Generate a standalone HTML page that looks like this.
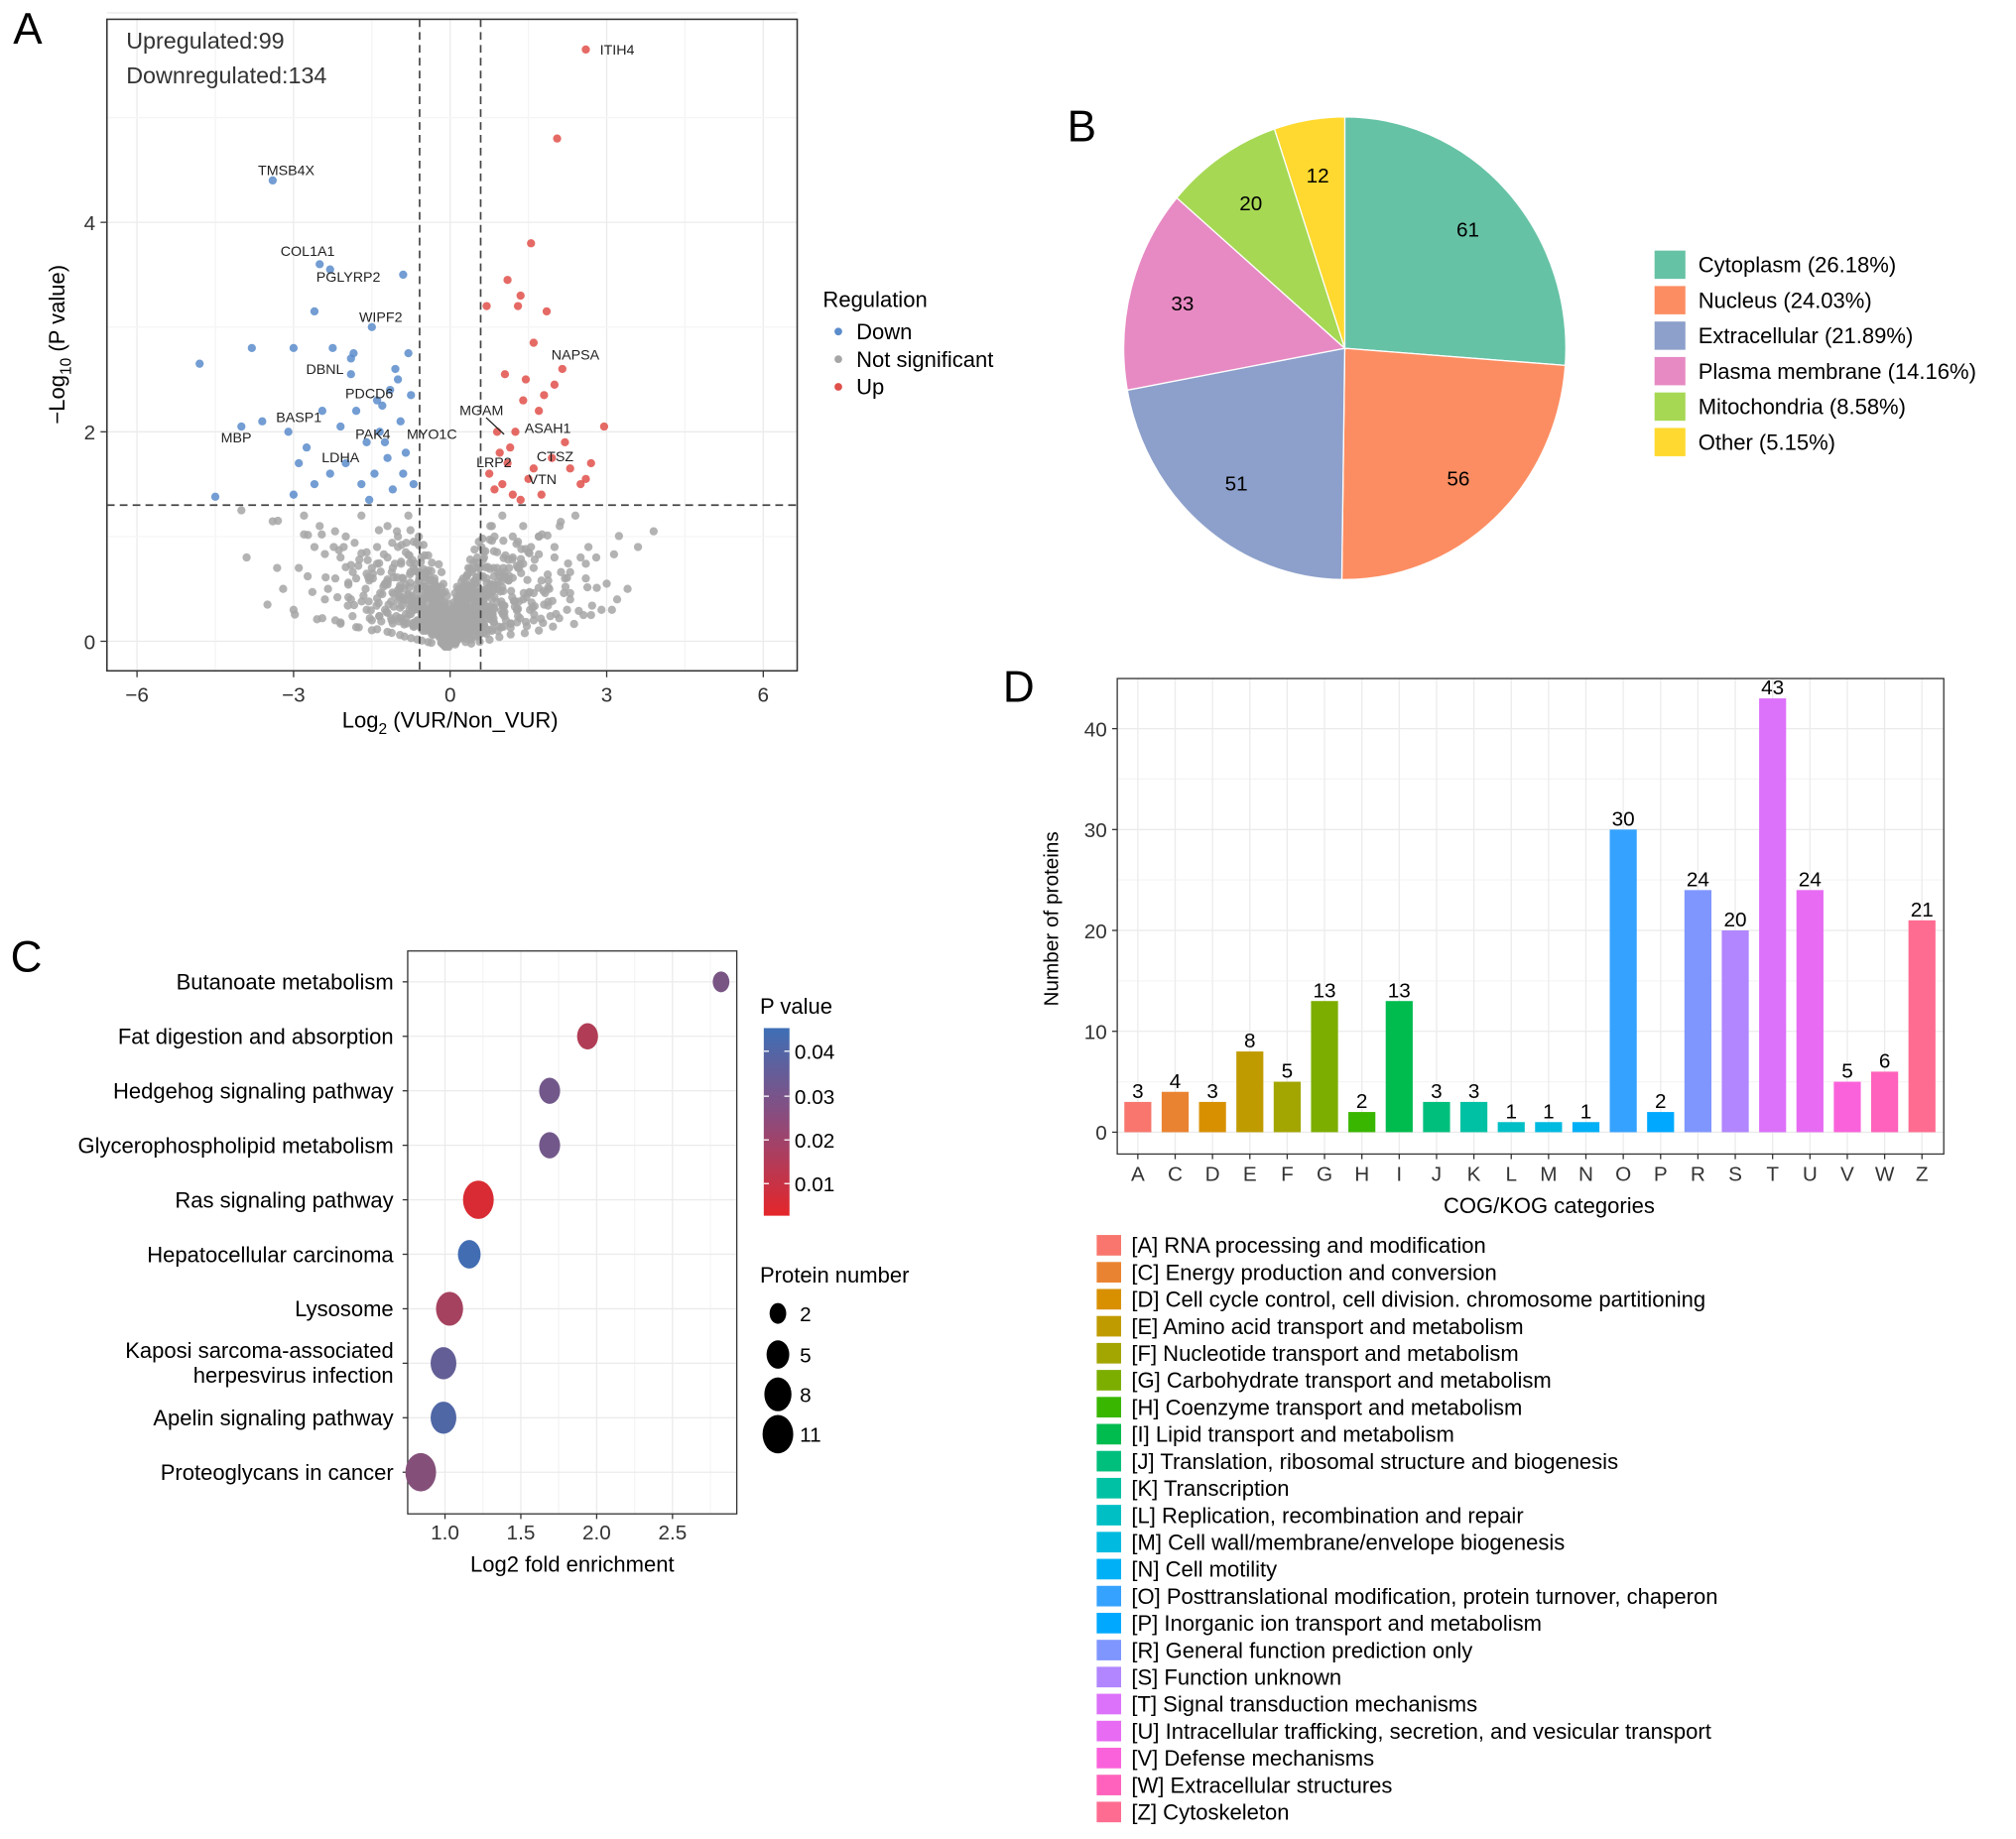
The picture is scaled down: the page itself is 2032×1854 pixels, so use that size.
<!DOCTYPE html>
<html><head><meta charset="utf-8"><style>
html,body{margin:0;padding:0;background:#fff}
svg{display:block;font-family:"Liberation Sans",Arial,sans-serif}
</style></head><body>
<svg id="fig" width="2032" height="1854" viewBox="0 0 1568 1431" xmlns="http://www.w3.org/2000/svg">
<rect width="1568" height="1431" fill="#fff"/>
<g id="pA"></g>
<g id="pB"></g>
<g id="pC"></g>
<g id="pD"></g>
</svg>
<script>
// ---------- Panel A data ----------
const upX=[2.6,2.05,1.55,1.35,1.1,1.3,1.85,1.6,0.7,1.45,2.15,1.8,1.05,1.4,1.7,2.0,2.95,2.7,1.95,1.25,0.9,1.15,1.6,2.3,2.5,1.0,0.75,0.85,1.2,1.5,1.35,0.95,1.1,2.6,1.75,2.2];
const upY=[5.65,4.8,3.8,3.3,3.45,3.2,3.15,2.85,3.2,2.5,2.6,2.35,2.55,2.3,2.2,2.45,2.05,1.7,1.75,2.0,2.0,1.85,1.65,1.65,1.5,1.5,1.6,1.45,1.4,1.55,1.35,1.8,1.7,1.55,1.4,1.9];
const downX=[-3.4,-2.5,-2.3,-0.9,-2.6,-1.5,-1.9,-1.85,-2.25,-0.8,-1.05,-4.8,-3.8,-3.0,-1.9,-4.0,-2.45,-1.4,-3.6,-3.1,-1.0,-1.8,-2.1,-1.3,-1.15,-2.75,-2.0,-1.6,-0.95,-0.75,-1.2,-2.3,-1.7,-4.5,-3.0,-1.45,-0.85,-1.1,-2.9,-1.55,-0.7,-1.25,-0.9,-2.6,-1.35];
const downY=[4.4,3.6,3.55,3.5,3.15,3.0,2.7,2.75,2.8,2.75,2.6,2.65,2.8,2.8,2.55,2.05,2.2,2.3,2.1,2.0,2.5,2.2,2.05,2.25,2.4,1.85,1.7,1.9,2.1,2.35,1.75,1.6,1.5,1.38,1.4,1.6,1.8,1.45,1.7,1.35,1.5,1.9,1.6,1.5,2.0];
const nsX=[-2.8,-3.9,-3.2,-2.5,-2.0,-1.7,-1.4,-1.2,-1.0,-0.8,-0.6,-0.4,-0.2,0,0.2,0.4,0.6,0.8,1.0,1.2,1.4,1.7,2.0,2.4,2.8,3.2,3.6,3.9,-3.5,-2.9,-2.2,-1.8,-1.5,-1.1,-0.9,-0.7,-0.5,-0.3,-0.1,0.1,0.3,0.5,0.7,0.9,1.1,1.3,1.6,1.9,2.2,2.6,3.0,3.4,-3.0,-2.4,-1.9,-1.3,-0.9,-0.6,-0.4,-0.25,-0.1,0.05,0.2,0.35,0.5,0.7,1.0,1.4,1.8,2.3,2.9,-2.6,-2.1,-1.6,-1.2,-0.85,-0.55,-0.3,-0.15,0.0,0.15,0.3,0.45,0.65,0.9,1.2,1.5,2.0,2.5,-3.3,-1.0,-0.7,-0.45,0.25,0.55,0.85,1.3,1.7,2.1,-1.5,-0.2,0.1,0.4,-2.2,2.7,3.1,-4.0,-0.35,0.35,-0.05];
const nsY=[1.2,0.8,0.5,1.1,1.0,1.2,0.9,1.1,0.9,1.2,1.0,0.5,0.3,0.1,0.3,0.5,0.9,1.1,1.2,1.0,1.1,1.0,0.9,1.2,0.8,0.4,0.9,1.05,0.35,0.7,0.6,0.6,0.7,0.7,0.6,0.7,0.4,0.25,0.1,0.15,0.3,0.45,0.6,0.7,0.6,0.7,0.7,0.5,0.6,0.6,0.55,0.5,0.3,0.4,0.4,0.45,0.4,0.4,0.3,0.15,0.05,0.05,0.1,0.2,0.3,0.3,0.35,0.4,0.35,0.4,0.3,0.9,0.8,0.85,0.8,0.85,0.8,0.6,0.2,0.02,0.2,0.55,0.75,0.8,0.85,0.8,0.85,0.8,0.8,1.15,1.0,0.95,0.6,0.6,0.95,1.0,0.95,1.0,1.1,0.2,0.05,0.05,0.12,0.2,0.25,0.3,1.25,0.75,0.7,0.02];
const labNames=["ITIH4","TMSB4X","COL1A1","PGLYRP2","WIPF2","DBNL","PDCD6","BASP1","MBP","PAK4","MYO1C","LDHA","MGAM","ASAH1","NAPSA","CTSZ","LRP2","VTN"];
const labLX=[3.2,-3.14,-2.73,-1.95,-1.33,-2.4,-1.55,-2.9,-4.1,-1.48,-0.35,-2.1,0.6,1.87,2.4,2.01,0.84,1.77];
const labLY=[5.65,4.5,3.73,3.48,3.1,2.6,2.37,2.14,1.95,1.98,1.98,1.76,2.21,2.04,2.74,1.77,1.71,1.55];
const xTicksA=[-6,-3,0,3,6], yTicksA=[0,2,4];
// ---------- Panel B data ----------
const pieLabels=["Cytoplasm (26.18%)","Nucleus (24.03%)","Extracellular (21.89%)","Plasma membrane (14.16%)","Mitochondria (8.58%)","Other (5.15%)"];
const pieValues=[61,56,51,33,20,12];
const pieColors=["#66c2a5","#fc8d62","#8da0cb","#e78ac3","#a6d854","#ffd92f"];
// ---------- Panel C data ----------
const pathways=["Butanoate metabolism","Fat digestion and absorption","Hedgehog signaling pathway","Glycerophospholipid metabolism","Ras signaling pathway","Hepatocellular carcinoma","Lysosome","Kaposi sarcoma-associated|herpesvirus infection","Apelin signaling pathway","Proteoglycans in cancer"];
const enrich=[2.82,1.94,1.69,1.69,1.22,1.16,1.03,0.99,0.99,0.84];
const pvals=[0.030,0.015,0.032,0.032,0.004,0.045,0.018,0.036,0.041,0.027];
const counts=[2,4,4,4,11,5,8,7,7,11];
const xTicksC=[1.0,1.5,2.0,2.5];
// ---------- Panel D data ----------
const cogCats=["A","C","D","E","F","G","H","I","J","K","L","M","N","O","P","R","S","T","U","V","W","Z"];
const cogVals=[3,4,3,8,5,13,2,13,3,3,1,1,1,30,2,24,20,43,24,5,6,21];
const cogDesc=["RNA processing and modification","Energy production and conversion","Cell cycle control, cell division. chromosome partitioning","Amino acid transport and metabolism","Nucleotide transport and metabolism","Carbohydrate transport and metabolism","Coenzyme transport and metabolism","Lipid transport and metabolism","Translation, ribosomal structure and biogenesis","Transcription","Replication, recombination and repair","Cell wall/membrane/envelope biogenesis","Cell motility","Posttranslational modification, protein turnover, chaperon","Inorganic ion transport and metabolism","General function prediction only","Function unknown","Signal transduction mechanisms","Intracellular trafficking, secretion, and vesicular transport","Defense mechanisms","Extracellular structures","Cytoskeleton"];
const cogColors=["#f8766d","#ea8331","#d89000","#c09b00","#a3a500","#7cae00","#39b600","#00bb4e","#00bf7d","#00c1a3","#00bfc4","#00bae0","#00b0f6","#35a2ff","#00a9ff","#7f96ff","#b186ff","#dc71fa","#e76bf3","#fa62db","#ff62bc","#ff6c91"];
const yTicksD=[0,10,20,30,40];

const NS="http://www.w3.org/2000/svg";
function mk(parent,tag,attrs,text){const e=document.createElementNS(NS,tag);for(const k in attrs)e.setAttribute(k,attrs[k]);if(text!==undefined)e.textContent=text;parent.appendChild(e);return e;}

// ===== Panel A =====
(function(){
const g=document.getElementById('pA');
const X0=83,X1=620,Y0=15,Y1=522;
const sx=v=>350+v*40.6, sy=v=>499-v*81.5;
let t=mk(g,'text',{x:10,y:34,'font-size':34},'A');
for(let v=-6;v<=6;v+=1.5){mk(g,'line',{x1:sx(v),x2:sx(v),y1:Y0,y2:Y1,stroke:(v%3===0)?'#ebebeb':'#f5f5f5','stroke-width':1});}
for(let v=0;v<=6;v+=1){mk(g,'line',{x1:X0,x2:X1,y1:sy(v),y2:sy(v),stroke:(v%2===0)?'#ebebeb':'#f5f5f5','stroke-width':1});}
mk(g,'rect',{x:X0,y:Y0,width:X1-X0,height:Y1-Y0,fill:'none',stroke:'#333','stroke-width':1.2});
function pts(xs,ys,c,name){for(let i=0;i<xs.length;i++){const p=mk(g,'circle',{cx:sx(xs[i]),cy:sy(ys[i]),r:3.2,fill:c,opacity:0.85});}}
pts(nsX,nsY,'#a6a6a6','ns-point');
[[0.85,0.9],[0.7,0.8],[0.6,0.65],[0.5,0.55],[0.4,0.5],[0.32,0.4],[0.25,0.3],[0.18,0.22],[0.12,0.15]].forEach(f=>{
for(let i=0;i<nsX.length;i++){mk(g,'circle',{cx:sx(nsX[i]*f[0]+(i%3-1)*0.08),cy:sy(nsY[i]*f[1]+((i%4)-1.5)*0.04),r:3.2,fill:'#a6a6a6',opacity:0.85});}});
pts(downX,downY,'#5b8ccb','down-point');
pts(upX,upY,'#e0504a','up-point');
[-0.585,0.585].forEach(v=>mk(g,'line',{x1:sx(v),x2:sx(v),y1:Y0,y2:Y1,stroke:'#444','stroke-dasharray':'6,4','stroke-width':1.3}));
mk(g,'line',{x1:X0,x2:X1,y1:sy(1.3),y2:sy(1.3),stroke:'#444','stroke-dasharray':'6,4','stroke-width':1.3});
for(let i=0;i<labNames.length;i++){const l=mk(g,'text',{x:sx(labLX[i]),y:sy(labLY[i])+4,'font-size':11,'text-anchor':'middle',fill:'#222'},labNames[i]);}
mk(g,'line',{x1:378,y1:325,x2:392,y2:338,stroke:'#222'});
xTicksA.forEach(v=>{mk(g,'line',{x1:sx(v),x2:sx(v),y1:Y1,y2:Y1+5,stroke:'#333'});const l=mk(g,'text',{x:sx(v),y:Y1+24,'font-size':16,'text-anchor':'middle',fill:'#333'},v<0?'−'+(-v):''+v);});
yTicksA.forEach(v=>{mk(g,'line',{x1:X0-5,x2:X0,y1:sy(v),y2:sy(v),stroke:'#333'});const l=mk(g,'text',{x:X0-9,y:sy(v)+6,'font-size':16,'text-anchor':'end',fill:'#333'},''+v);});
t=mk(g,'text',{x:350,y:566,'font-size':17,'text-anchor':'middle'});
t.innerHTML='Log<tspan font-size="12" dy="5">2</tspan><tspan dy="-5"> (VUR/Non_VUR)</tspan>';
t=mk(g,'text',{transform:'translate(50,268) rotate(-90)','font-size':17,'text-anchor':'middle'});
t.innerHTML='−Log<tspan font-size="12" dy="5">10</tspan><tspan dy="-5"> (P value)</tspan>';
t=mk(g,'text',{x:98,y:38,'font-size':18,fill:'#333'},'Upregulated:99');
t=mk(g,'text',{x:98,y:65,'font-size':18,fill:'#333'},'Downregulated:134');
t=mk(g,'text',{x:640,y:239,'font-size':17},'Regulation');
[['Down','#5b8ccb'],['Not significant','#a6a6a6'],['Up','#e0504a']].forEach((d,i)=>{const y=258+i*21.5;mk(g,'circle',{cx:652,cy:y,r:3,fill:d[1]});const l=mk(g,'text',{x:666,y:y+6,'font-size':17},d[0]);});
})();

// ===== Panel B =====
(function(){
const g=document.getElementById('pB');
let t=mk(g,'text',{x:830,y:110,'font-size':34},'B');
const cx=1046,cy=271,rx=172,ry=180;const tot=pieValues.reduce((a,b)=>a+b,0);let a=0;
pieValues.forEach((v,i)=>{const a0=a,a1=a+v/tot*2*Math.PI;a=a1;
const p=(ang,f)=>[cx+rx*f*Math.sin(ang),cy-ry*f*Math.cos(ang)];
const [x0,y0]=p(a0,1),[x1,y1]=p(a1,1);
const s=mk(g,'path',{d:`M${cx},${cy} L${x0},${y0} A${rx},${ry} 0 ${a1-a0>Math.PI?1:0} 1 ${x1},${y1} Z`,fill:pieColors[i],stroke:'#fff','stroke-width':1});

const [lx,ly]=p((a0+a1)/2,0.76);const l=mk(g,'text',{x:lx,y:ly+6,'font-size':16,'text-anchor':'middle'},''+v);
const ly2=206+i*27.6;mk(g,'rect',{x:1287,y:ly2-11,width:24,height:22,fill:pieColors[i]});
const le=mk(g,'text',{x:1321,y:ly2+6,'font-size':17},pieLabels[i]);
});
})();

// ===== Panel C =====
(function(){
const g=document.getElementById('pC');
let t=mk(g,'text',{x:8,y:756,'font-size':34},'C');
const X0=317,X1=573,Y0=740,Y1=1178;const sx=v=>346+(v-1)*118;const rowY=i=>764+i*42.4;
xTicksC.forEach(v=>mk(g,'line',{x1:sx(v),x2:sx(v),y1:Y0,y2:Y1,stroke:'#ebebeb'}));
for(let v=0.75;v<=2.8;v+=0.5)mk(g,'line',{x1:sx(v),x2:sx(v),y1:Y0,y2:Y1,stroke:'#f5f5f5'});
pathways.forEach((p,i)=>mk(g,'line',{x1:X0,x2:X1,y1:rowY(i),y2:rowY(i),stroke:'#ebebeb'}));
mk(g,'rect',{x:X0,y:Y0,width:X1-X0,height:Y1-Y0,fill:'none',stroke:'#333','stroke-width':1});
const col=p=>{const f=Math.min(1,Math.max(0,(p-0.001)/0.045));const c0=[228,38,42],c1=[62,111,181];return `rgb(${c0.map((c,k)=>Math.round(c+(c1[k]-c)*f)).join(',')})`;};
const rad=n=>3+Math.sqrt(n)*3.6;
pathways.forEach((p,i)=>{const y=rowY(i);const parts=p.split('|');
parts.forEach((s,k)=>{const l=mk(g,'text',{x:306,y:y+6+(parts.length>1?(k===0?-10:9):0),'font-size':17,'text-anchor':'end'},s);});
mk(g,'line',{x1:X0-4,x2:X0,y1:y,y2:y,stroke:'#333'});
const b=mk(g,'ellipse',{cx:sx(enrich[i]),cy:y,rx:rad(counts[i])*0.8,ry:rad(counts[i]),fill:col(pvals[i])});});
xTicksC.forEach(v=>{mk(g,'line',{x1:sx(v),x2:sx(v),y1:Y1,y2:Y1+4,stroke:'#333'});const l=mk(g,'text',{x:sx(v),y:Y1+20,'font-size':16,'text-anchor':'middle',fill:'#333'},v.toFixed(1));});
t=mk(g,'text',{x:445,y:1223,'font-size':17,'text-anchor':'middle'},'Log2 fold enrichment');
t=mk(g,'text',{x:591,y:789,'font-size':17},'P value');
const defs=mk(g,'defs',{});const lg=mk(defs,'linearGradient',{id:'pg',x1:0,y1:0,x2:0,y2:1});
mk(lg,'stop',{offset:'0',"stop-color":'#3e6fb5'});mk(lg,'stop',{offset:'0.5',"stop-color":'#8f4a7a'});mk(lg,'stop',{offset:'1',"stop-color":'#e4262a'});
mk(g,'rect',{x:594,y:800,width:20,height:146,fill:'url(#pg)'});
[[0.04,818],[0.03,853],[0.02,887],[0.01,921]].forEach(d=>{mk(g,'line',{x1:594,x2:598,y1:d[1],y2:d[1],stroke:'#fff'});mk(g,'line',{x1:610,x2:614,y1:d[1],y2:d[1],stroke:'#fff'});const l=mk(g,'text',{x:618,y:d[1]+6,'font-size':16},''+d[0]);});
t=mk(g,'text',{x:591,y:998,'font-size':17},'Protein number');
[[2,1022],[5,1054],[8,1085],[11,1116]].forEach(d=>{mk(g,'ellipse',{cx:605,cy:d[1],rx:rad(d[0])*0.8,ry:rad(d[0]),fill:'#000'});const l=mk(g,'text',{x:622,y:d[1]+6,'font-size':16},''+d[0]);});
})();

// ===== Panel D =====
(function(){
const g=document.getElementById('pD');
let t=mk(g,'text',{x:780,y:546,'font-size':34},'D');
const X0=869,X1=1512,Y0=528,Y1=898;const sy=v=>881-v*7.85;const sx=i=>885+i*29.05;
for(let v=0;v<=45;v+=5)mk(g,'line',{x1:X0,x2:X1,y1:sy(v),y2:sy(v),stroke:v%10===0?'#ebebeb':'#f5f5f5'});
cogCats.forEach((c,i)=>mk(g,'line',{x1:sx(i),x2:sx(i),y1:Y0,y2:Y1,stroke:'#ebebeb'}));
mk(g,'rect',{x:X0,y:Y0,width:X1-X0,height:Y1-Y0,fill:'none',stroke:'#333','stroke-width':1});
cogCats.forEach((c,i)=>{const b=mk(g,'rect',{x:sx(i)-10.5,y:sy(cogVals[i]),width:21,height:sy(0)-sy(cogVals[i]),fill:cogColors[i]});
const l=mk(g,'text',{x:sx(i),y:sy(cogVals[i])-3,'font-size':16,'text-anchor':'middle'},''+cogVals[i]);
mk(g,'line',{x1:sx(i),x2:sx(i),y1:Y1,y2:Y1+4,stroke:'#333'});
const tl=mk(g,'text',{x:sx(i),y:Y1+21,'font-size':16,'text-anchor':'middle',fill:'#333'},c);});
yTicksD.forEach(v=>{mk(g,'line',{x1:X0-4,x2:X0,y1:sy(v),y2:sy(v),stroke:'#333'});const l=mk(g,'text',{x:X0-8,y:sy(v)+6,'font-size':16,'text-anchor':'end',fill:'#333'},''+v);});
t=mk(g,'text',{x:1205,y:944,'font-size':17,'text-anchor':'middle'},'COG/KOG categories');
t=mk(g,'text',{transform:'translate(823,715) rotate(-90)','font-size':16,'text-anchor':'middle'},'Number of proteins');
cogCats.forEach((c,i)=>{const y=969+i*21;mk(g,'rect',{x:853,y:y-8,width:19,height:16,fill:cogColors[i]});const l=mk(g,'text',{x:880,y:y+6,'font-size':17},'['+c+'] '+cogDesc[i]);});
})();
</script>
</body></html>
